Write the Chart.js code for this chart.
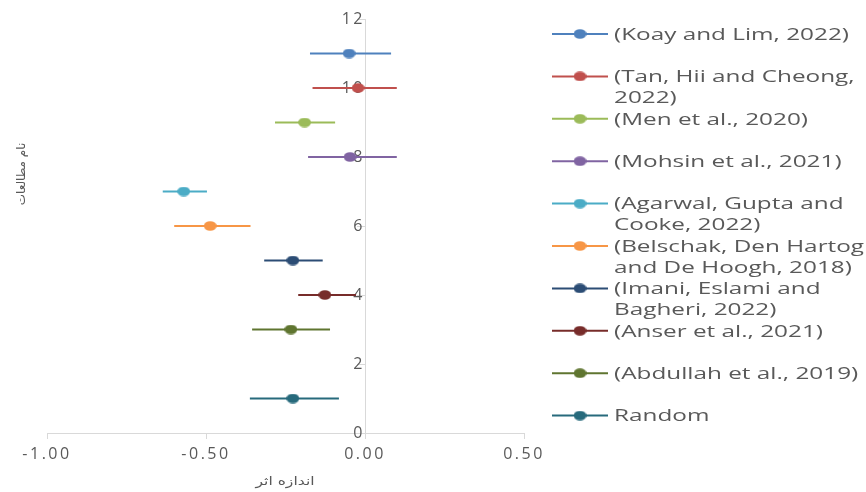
<!DOCTYPE html>
<html>
<head>
<meta charset="utf-8">
<script src="https://cdn.jsdelivr.net/npm/chart.js@4"></script>
<style>
  html, body { margin:0; padding:0; background:#fff; }
  #wrap { width:866px; height:492px; position:relative; }
</style>
</head>
<body>
<div id="wrap"><canvas id="forest"></canvas></div>
<script>
// studies, from top to bottom
const studies = [
  ['(Koay and Lim, 2022)'],
  ['(Tan, Hii and Cheong,', '2022)'],
  ['(Men et al., 2020)'],
  ['(Mohsin et al., 2021)'],
  ['(Agarwal, Gupta and', 'Cooke, 2022)'],
  ['(Belschak, Den Hartog', 'and De Hoogh, 2018)'],
  ['(Imani, Eslami and', 'Bagheri, 2022)'],
  ['(Anser et al., 2021)'],
  ['(Abdullah et al., 2019)'],
  ['Random']
];
const rowPos = [11, 10, 9, 8, 7, 6, 5, 4, 3, 1];
const effect = [-0.05, -0.022, -0.19, -0.047, -0.57, -0.487, -0.227, -0.126, -0.233, -0.227];
const lower  = [-0.173, -0.165, -0.283, -0.179, -0.636, -0.60, -0.317, -0.21, -0.355, -0.362];
const upper  = [0.082, 0.10, -0.094, 0.10, -0.497, -0.36, -0.133, -0.028, -0.11, -0.082];
const colors = ['#4F81BD','#C0504D','#9BBB59','#8064A2','#4BACC6','#F79646','#2C4D75','#772C2A','#5F7530','#276A7C'];

const xTicks = [-1, -0.5, 0, 0.5];
const xTitle = 'اندازه اثر';
const yTitle = 'نام مطالعات';

const TXT = '#595959';

// the original picture is stretched sideways, so the markers are flat ovals
function ovalMarker(color) {
  const c = document.createElement('canvas');
  c.width = 13; c.height = 10;
  const g = c.getContext('2d');
  g.fillStyle = color;
  g.beginPath(); g.ellipse(6.5, 5, 6.4, 4.8, 0, 0, Math.PI * 2); g.fill();
  return c;
}
const markers = colors.map(ovalMarker);

const datasets = studies.map((s, i) => ({
  label: s.join(' '),
  data: [
    {x: lower[i], y: rowPos[i]},
    {x: effect[i], y: rowPos[i]},
    {x: upper[i], y: rowPos[i]}
  ],
  showLine: true,
  borderColor: colors[i],
  backgroundColor: colors[i],
  borderWidth: 2.2,
  pointStyle: markers[i],
  pointRadius: [0, 7, 0],
  pointHoverRadius: [0, 7, 0]
}));

// wider spacing of tick text, like the stretched original
const spacing = {
  id: 'spacing',
  beforeDraw(chart) { chart.ctx.letterSpacing = '2.5px'; },
  afterDatasetsDraw(chart) { chart.ctx.letterSpacing = '0px'; }
};

// legend + axis titles drawn by hand (the legend wraps like in the original)
const extras = {
  id: 'extras',
  afterDraw(chart) {
    const ctx = chart.ctx;
    ctx.save();
    ctx.letterSpacing = '0px';
    studies.forEach((lines, i) => {
      const y = 34 + i * 42.4;
      ctx.strokeStyle = colors[i];
      ctx.lineWidth = 2;
      ctx.beginPath(); ctx.moveTo(552, y); ctx.lineTo(608, y); ctx.stroke();
      ctx.drawImage(markers[i], 580 - 6.5, y - 5);
      ctx.fillStyle = TXT;
      ctx.font = '17px "Open Sans"';
      ctx.textBaseline = 'middle';
      ctx.textAlign = 'left';
      lines.forEach((t, k) => {
        ctx.save();
        ctx.translate(614, y + 1 + k * 21);
        ctx.scale(1.43, 1);
        ctx.fillText(t, 0, 0);
        ctx.restore();
      });
    });
    ctx.fillStyle = TXT;
    ctx.font = '12px "DejaVu Sans"';
    ctx.textAlign = 'center';
    ctx.textBaseline = 'middle';
    ctx.save();
    ctx.translate(285, 482);
    ctx.scale(1.3, 1);
    ctx.fillText(xTitle, 0, 0);
    ctx.restore();
    ctx.translate(22, 174);
    ctx.rotate(-Math.PI / 2);
    ctx.fillText(yTitle, 0, 0);
    ctx.restore();
  }
};

new Chart(document.getElementById('forest'), {
  type: 'scatter',
  data: { datasets },
  options: {
    responsive: true,
    maintainAspectRatio: false,
    animation: false,
    layout: { padding: { left: 47, right: 342, top: 19, bottom: 0 } },
    plugins: { legend: { display: false }, tooltip: { enabled: false } },
    scales: {
      x: {
        type: 'linear',
        min: -1, max: 0.5,
        afterBuildTicks: s => { s.ticks = xTicks.map(v => ({value: v})); },
        afterFit: s => { s.height = 59; },
        border: { color: '#D9D9D9', width: 1 },
        grid: { drawOnChartArea: false, drawTicks: true, tickLength: 6, color: '#D9D9D9' },
        ticks: {
          color: TXT,
          font: { family: '"Open Sans"', size: 16 },
          padding: 6,
          callback: v => v.toFixed(2)
        }
      },
      y: {
        type: 'linear',
        position: { x: 0 },
        min: 0, max: 12,
        afterFit: s => { s.paddingTop = 0; s.paddingBottom = 0; },
        border: { color: '#D9D9D9', width: 1 },
        grid: { drawOnChartArea: false, drawTicks: true, tickLength: 8, color: '#D9D9D9' },
        ticks: {
          stepSize: 2,
          color: TXT,
          font: { family: '"Open Sans"', size: 16 },
          padding: 16
        }
      }
    }
  },
  plugins: [spacing, extras]
});
</script>
</body>
</html>
